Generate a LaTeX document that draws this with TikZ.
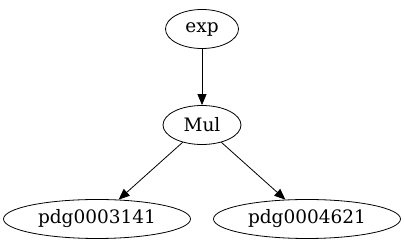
\documentclass[tikz,border=0pt]{standalone}
\usepackage{fontspec}
\setmainfont{DejaVu Serif}
\usetikzlibrary{shapes.geometric,arrows.meta}
\begin{document}
\begin{tikzpicture}[x=1pt,y=1pt,
  nd/.style={draw,ellipse,inner sep=0pt,minimum height=39pt,line width=0.8pt,font=\fontsize{18.5}{22}\selectfont},
  edge/.style={-{Triangle[length=11pt,width=9pt]},line width=0.8pt}]
\useasboundingbox (0,0) rectangle (405,251);
\node[nd,minimum width=73pt] (exp) at (202,222) {exp};
\node[nd,minimum width=78pt] (mul) at (202,126) {Mul};
\node[nd,minimum width=187pt] (p1) at (97,32) {pdg0003141};
\node[nd,minimum width=187pt] (p2) at (307,32) {pdg0004621};
\draw[edge] (exp) -- (mul);
\draw[edge] (mul) -- (p1);
\draw[edge] (mul) -- (p2);
\end{tikzpicture}
\end{document}
